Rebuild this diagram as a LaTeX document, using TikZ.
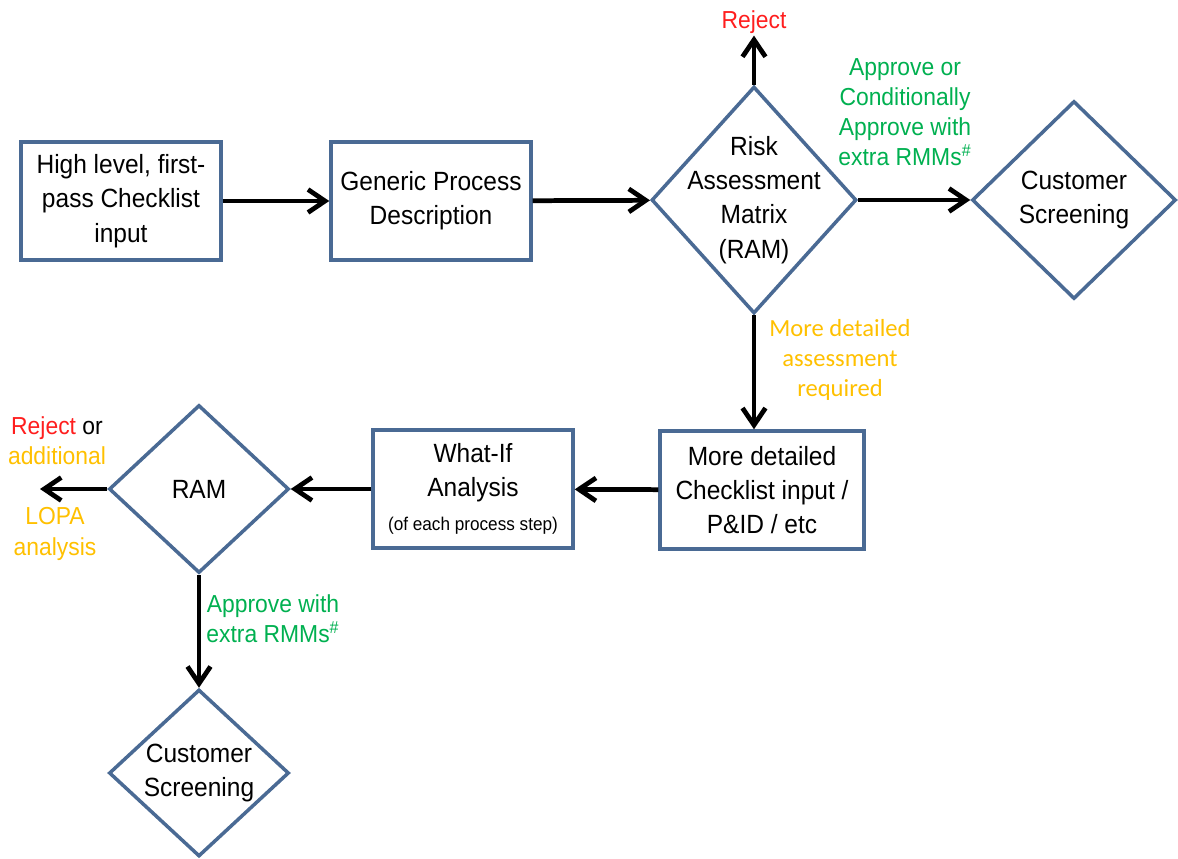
\documentclass[tikz,border=0pt]{standalone}
\usepackage{fontspec}
\setmainfont{Liberation Sans}[FakeStretch=0.93]
\newfontfamily\calfont{Carlito}
\usetikzlibrary{shapes.geometric,arrows.meta}
\definecolor{boxblue}{RGB}{74,106,148}
\definecolor{okgreen}{RGB}{0,176,80}
\definecolor{warnorange}{RGB}{255,192,0}
\definecolor{rejred}{RGB}{255,30,30}
\begin{document}
\begin{tikzpicture}[x=0.02cm,y=-0.02cm,
    box/.style={draw=boxblue,line width=2pt,minimum width=4cm,minimum height=2.36cm,align=center,inner sep=2pt,font=\fontsize{15}{19.5}\selectfont},
    decision/.style={diamond,draw=boxblue,line width=2pt,inner sep=0pt},
    dtxt/.style={align=center,font=\fontsize{15}{19.5}\selectfont},
    note/.style={align=center,inner sep=1pt,font=\fontsize{14}{17.2}\selectfont},
    flow/.style={-{Straight Barb[length=3.4mm,width=4.6mm]},line width=2.7pt}]
  \useasboundingbox (0,0) rectangle (1178,859);
  % top row
  \node[box] (checklist) at (121,201) {High level, first-\\pass Checklist\\input};
  \node[box] (generic) at (431,201) {Generic Process\\Description};
  \node[decision,minimum width=4.1cm,minimum height=4.54cm,
        label={[dtxt]center:Risk\\Assessment\\Matrix\\(RAM)}] (ram) at (754,200) {};
  \node[decision,minimum width=4.08cm,minimum height=3.96cm,
        label={[dtxt]center:Customer\\Screening}] (csone) at (1074,200) {};
  \node[note,text=rejred] (rejtop) at (754,22) {Reject};
  \node[note,text=okgreen] (approve) at (905,112) {Approve or\\Conditionally\\Approve with\\extra RMMs\textsuperscript{\#}};
  \node[note,text=warnorange,font=\calfont\fontsize{14}{17.2}\selectfont] (moredet) at (840,360) {More detailed\\assessment\\required};
  % bottom row
  \node[box,minimum width=4.08cm] (detailed) at (762,490) {More detailed\\Checklist input /\\P\&ID / etc};
  \node[box] (whatif) at (473,489) {What-If\\Analysis\\{\fontsize{10.5}{13}\selectfont (of each process step)}};
  \node[decision,minimum width=3.6cm,minimum height=3.36cm,
        label={[dtxt]center:RAM}] (ramtwo) at (199,489) {};
  \node[decision,minimum width=3.6cm,minimum height=3.34cm,
        label={[dtxt]center:Customer\\Screening}] (cstwo) at (199,773) {};
  \node[note,text=warnorange] (lopaup) at (57,441) {{\color{rejred}Reject} {\color{black}or}\\additional};
  \node[note,text=warnorange] (lopadown) at (55,534) {LOPA\\analysis};
  \node[note,text=okgreen] (approvetwo) at (273,619) {Approve with\\extra RMMs\textsuperscript{\#}};
  \coordinate (lopaend) at (40,489);
  % connectors
  \draw[flow] (checklist) -- (generic);
  \draw[flow] (generic) -- (ram);
  \draw[flow] (ram.north) -- (rejtop);
  \draw[flow] (ram.east) -- (csone.west);
  \draw[flow] (ram.south) -- (ram.south |- detailed.north);
  \draw[flow] (detailed) -- (whatif);
  \draw[flow] (whatif) -- (ramtwo);
  \draw[flow] (ramtwo.west) -- (lopaend);
  \draw[flow] (ramtwo) -- (cstwo);
\end{tikzpicture}
\end{document}
